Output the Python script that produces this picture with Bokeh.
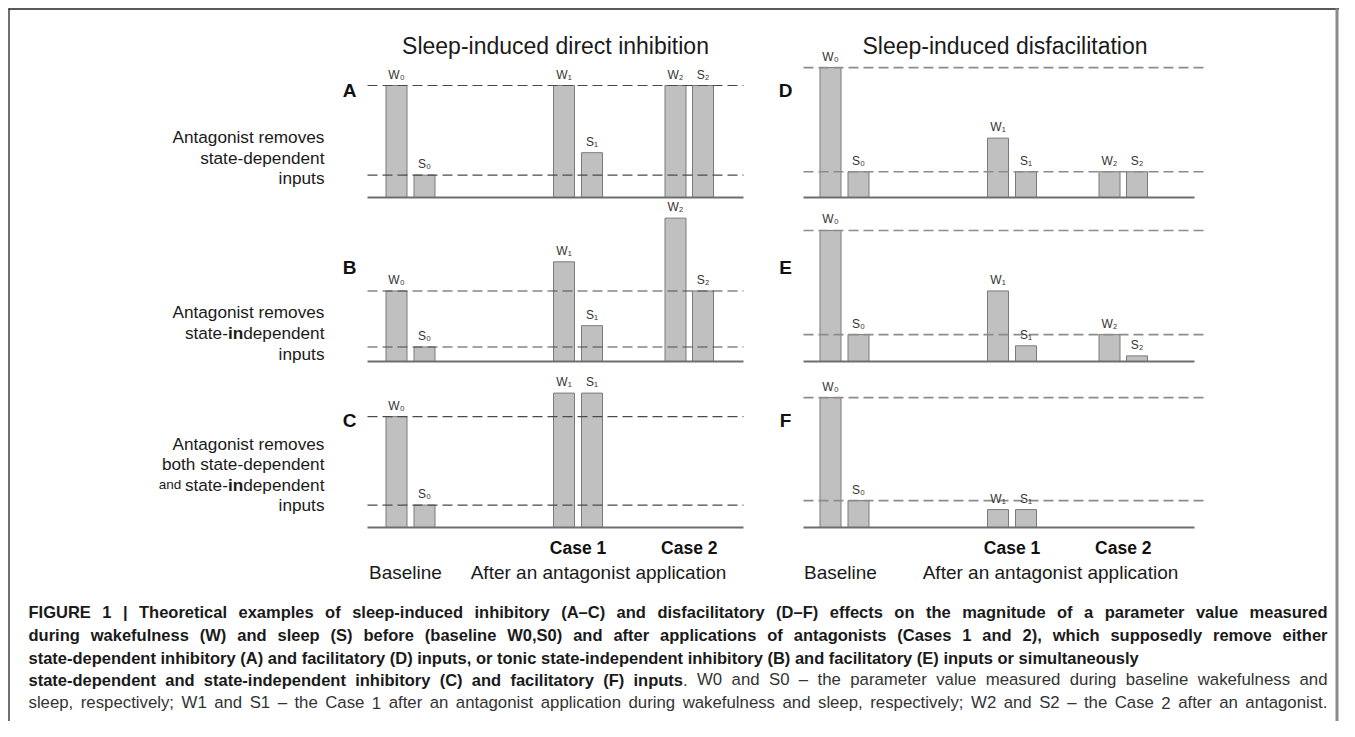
from bokeh.plotting import figure
from bokeh.models import Range1d
from bokeh.core.properties import value
from bokeh.embed import file_html
from bokeh.resources import INLINE

# ------------------------------------------------------------------ data
bar_names = ["W₀", "S₀", "W₁", "S₁", "W₂", "S₂"]
panel_letters = ["A", "B", "C", "D", "E", "F"]
vals_A = [100, 20, 100, 40, 100, 100]
vals_B = [63, 13, 89, 32, 128, 63]
vals_C = [99, 20, 120, 120, None, None]
vals_D = [116, 23, 53, 23, 23, 23]
vals_E = [117, 24, 63, 14, 24, 5]
vals_F = [116, 24, 16, 16, None, None]
panel_values = [vals_A, vals_B, vals_C, vals_D, vals_E, vals_F]
column_titles = ["Sleep-induced direct inhibition", "Sleep-induced disfacilitation"]
case_names = ["Case 1", "Case 2"]
phase_names = ["Baseline", "After an antagonist application"]
row_notes = [
    [[("Antagonist removes", "n")], [("state-dependent", "n")], [("inputs", "n")]],
    [[("Antagonist removes", "n")], [("state-", "n"), ("in", "b"), ("dependent", "n")], [("inputs", "n")]],
    [[("Antagonist removes", "n")], [("both state-dependent", "n")],
     [("and ", "s"), ("state-", "n"), ("in", "b"), ("dependent", "n")], [("inputs", "n")]],
]
caption_lines = [
    [("FIGURE 1 | Theoretical examples of sleep-induced inhibitory (A–C) and disfacilitatory (D–F) effects on the magnitude of a parameter value measured", "b")],
    [("during wakefulness (W) and sleep (S) before (baseline W0,S0) and after applications of antagonists (Cases 1 and 2), which supposedly remove either", "b")],
    [("state-dependent inhibitory (A) and facilitatory (D) inputs, or tonic state-independent inhibitory (B) and facilitatory (E) inputs or simultaneously", "b")],
    [("state-dependent and state-independent inhibitory (C) and facilitatory (F) inputs", "b"),
     (". W0 and S0 – the parameter value measured during baseline wakefulness and", "n")],
    [("sleep, respectively; W1 and S1 – the Case 1 after an antagonist application during wakefulness and sleep, respectively; W2 and S2 – the Case 2 after an antagonist.", "n")],
]
caption_justified = [True, True, False, True, True]

# ------------------------------------------------------------------ font metrics (Arial / Liberation Sans)
UP = "ABCDEFGHIJKLMNOPQRSTUVWXYZ"
LO = "abcdefghijklmnopqrstuvwxyz"
REG = dict(zip(UP, [667,667,722,722,667,611,778,722,278,500,667,556,833,722,778,667,778,722,667,611,722,667,944,667,667,611]))
REG.update(zip(LO, [556,556,500,556,556,278,556,556,222,222,500,222,833,556,556,556,556,333,500,278,556,500,722,500,500,500]))
REG.update({" ": 278, ",": 278, ".": 278, "-": 333, "(": 333, ")": 333, "–": 556, ";": 278, ":": 278, "|": 260})
BLD = dict(zip(UP, [722,722,722,722,667,611,778,722,278,556,722,611,833,722,778,667,778,722,667,611,722,667,944,667,667,611]))
BLD.update(zip(LO, [556,611,556,611,556,333,611,611,278,278,556,278,889,611,611,611,611,389,556,333,611,556,778,556,556,500]))
BLD.update({" ": 278, ",": 278, ".": 278, "-": 333, "(": 333, ")": 333, "–": 556, ";": 333, ":": 333, "|": 280})


def text_w(s, bold, size):
    t = BLD if bold else REG
    return sum(t.get(c, 556) for c in s) / 1000.0 * size


# ------------------------------------------------------------------ layout
W, H = 1339, 721
FONT = value("Liberation Sans")
ROW_BASE = [197, 361, 527]
PPU = 1.12
SLOT_X = [396, 424, 563.5, 591.5, 675, 702.5]
COL_SHIFT = [0, 434]
BAR_W = 21
AXIS_X = [(367, 743), (803, 1194)]
DASH_X = [(367, 743), (803, 1206)]
DASH_COL = ["#4a4a4a", "#8c8c8c"]
DASH_W = [1.1, 1.6]
LETTER_DY = [-107, -94, -107]

p = figure(width=W, height=H, x_range=Range1d(0, W), y_range=Range1d(H, 0),
           output_backend="svg", toolbar_location=None, min_border=0)
p.xaxis.visible = False
p.yaxis.visible = False
p.xgrid.visible = False
p.ygrid.visible = False
p.outline_line_color = None
p.background_fill_color = "white"
p.border_fill_color = "white"
p.extra_y_ranges = {f"r{r}": Range1d(start=-(H - b) / PPU, end=b / PPU)
                    for r, b in enumerate(ROW_BASE)}

texts = {}


def put(x, y, s, size, style="normal", align="left", color="#1a1a1a", baseline="middle"):
    key = (size, style, align, color, baseline)
    d = texts.setdefault(key, {"x": [], "y": [], "t": []})
    d["x"].append(x)
    d["y"].append(y)
    d["t"].append(s)


# ---------------------------------------------------------------- panels
for k, vals in enumerate(panel_values):
    col, row = divmod(k, 3)
    rng = f"r{row}"
    idx = [i for i, v in enumerate(vals) if v is not None]
    xs = [SLOT_X[i] + COL_SHIFT[col] for i in idx]
    tops = [vals[i] for i in idx]
    names = [bar_names[i] for i in idx]
    p.vbar(x=xs, top=tops, bottom=0, width=BAR_W, fill_color="#c0c0c0",
           line_color="#7a7a7a", line_width=1, y_range_name=rng)
    refs = [vals[0], vals[1]]
    p.segment(x0=[DASH_X[col][0]] * 2, x1=[DASH_X[col][1]] * 2, y0=refs, y1=refs,
              line_color=DASH_COL[col], line_width=DASH_W[col], line_dash="10 5", y_range_name=rng)
    p.segment(x0=[AXIS_X[col][0]], x1=[AXIS_X[col][1]], y0=[0], y1=[0],
              line_color="#6e6e6e", line_width=2, y_range_name=rng)
    p.text(x=xs, y=tops, text=names, y_range_name=rng, y_offset=-4,
           text_font=FONT, text_font_size="12px", text_align="center",
           text_baseline="bottom", text_color="#333333")
    put(AXIS_X[col][0] - 18, ROW_BASE[row] + LETTER_DY[row], panel_letters[k],
        "19px", "bold", "center", "#111111")

# ---------------------------------------------------------------- titles & axis captions
PHASE_X = [[405, 598], [840, 1050]]
for c, t in enumerate(column_titles):
    put((DASH_X[c][0] + DASH_X[c][1]) / 2, 45, t, "23px", "normal", "center", "#1a1a1a")
    for j, cn in enumerate(case_names):
        cx = (SLOT_X[2 + 2 * j] + SLOT_X[3 + 2 * j]) / 2 + COL_SHIFT[c]
        put(cx, 547, cn, "17.5px", "bold", "center", "#111111")
    for j, ph in enumerate(phase_names):
        put(PHASE_X[c][j], 572, ph, "19px", "normal", "center")

# ---------------------------------------------------------------- row notes (right aligned, mixed weight)
NOTE_RIGHT = 324
NOTE_Y = [[136, 157, 177], [311, 332, 353], [443, 463, 484, 504]]
NOTE_SIZE = 17.2
for r, lines in enumerate(row_notes):
    for li, parts in enumerate(lines):
        sizes = [13.5 if st == "s" else NOTE_SIZE for _, st in parts]
        widths = [text_w(s, st == "b", sz) for (s, st), sz in zip(parts, sizes)]
        x = NOTE_RIGHT - sum(widths)
        for (s, st), sz, wd in zip(parts, sizes, widths):
            put(x, NOTE_Y[r][li], s, f"{sz}px", "bold" if st == "b" else "normal", "left", "#1a1a1a")
            x += wd

# ---------------------------------------------------------------- caption (justified lines)
CAP_X = 28
CAP_RIGHT = 1327
CAP_SIZE = {"b": 16.5, "n": 16.8}
CAP_COLOR = {"b": "#1a1a1a", "n": "#333333"}
CAP_Y = [611, 634, 657, 679, 702]
for li, parts in enumerate(caption_lines):
    tokens = []
    for s, st in parts:
        for wi, wd in enumerate(s.split(" ")):
            if wd:
                tokens.append((wd, st, wi > 0 and len(tokens) > 0))
    gaps = sum(1 for t in tokens if t[2])
    natural = sum(text_w(t[0], t[1] == "b", CAP_SIZE[t[1]]) for t in tokens)
    natural += sum(text_w(" ", t[1] == "b", CAP_SIZE[t[1]]) for t in tokens if t[2])
    extra = max(0.0, (CAP_RIGHT - CAP_X - natural) / gaps) if caption_justified[li] and gaps else 0
    x = CAP_X
    for wd, st, sp in tokens:
        if sp:
            x += text_w(" ", st == "b", CAP_SIZE[st]) + extra
        put(x, CAP_Y[li], wd, f"{CAP_SIZE[st]}px", "bold" if st == "b" else "normal", "left", CAP_COLOR[st])
        x += text_w(wd, st == "b", CAP_SIZE[st])

for (size, style, align, color, baseline), d in texts.items():
    p.text(x=d["x"], y=d["y"], text=d["t"], text_font=FONT, text_font_size=size,
           text_font_style=style, text_align=align, text_baseline=baseline, text_color=color)

# ---------------------------------------------------------------- frame
p.segment(x0=[8, 8.5], x1=[W, 8.5], y0=[8.5, 8], y1=[8.5, H],
          line_color="#222222", line_width=1.3)
p.segment(x0=[W - 2.5], x1=[W - 2.5], y0=[8], y1=[H],
          line_color="#8a8a8a", line_width=3)

open("out.html", "w").write(file_html(p, INLINE))
